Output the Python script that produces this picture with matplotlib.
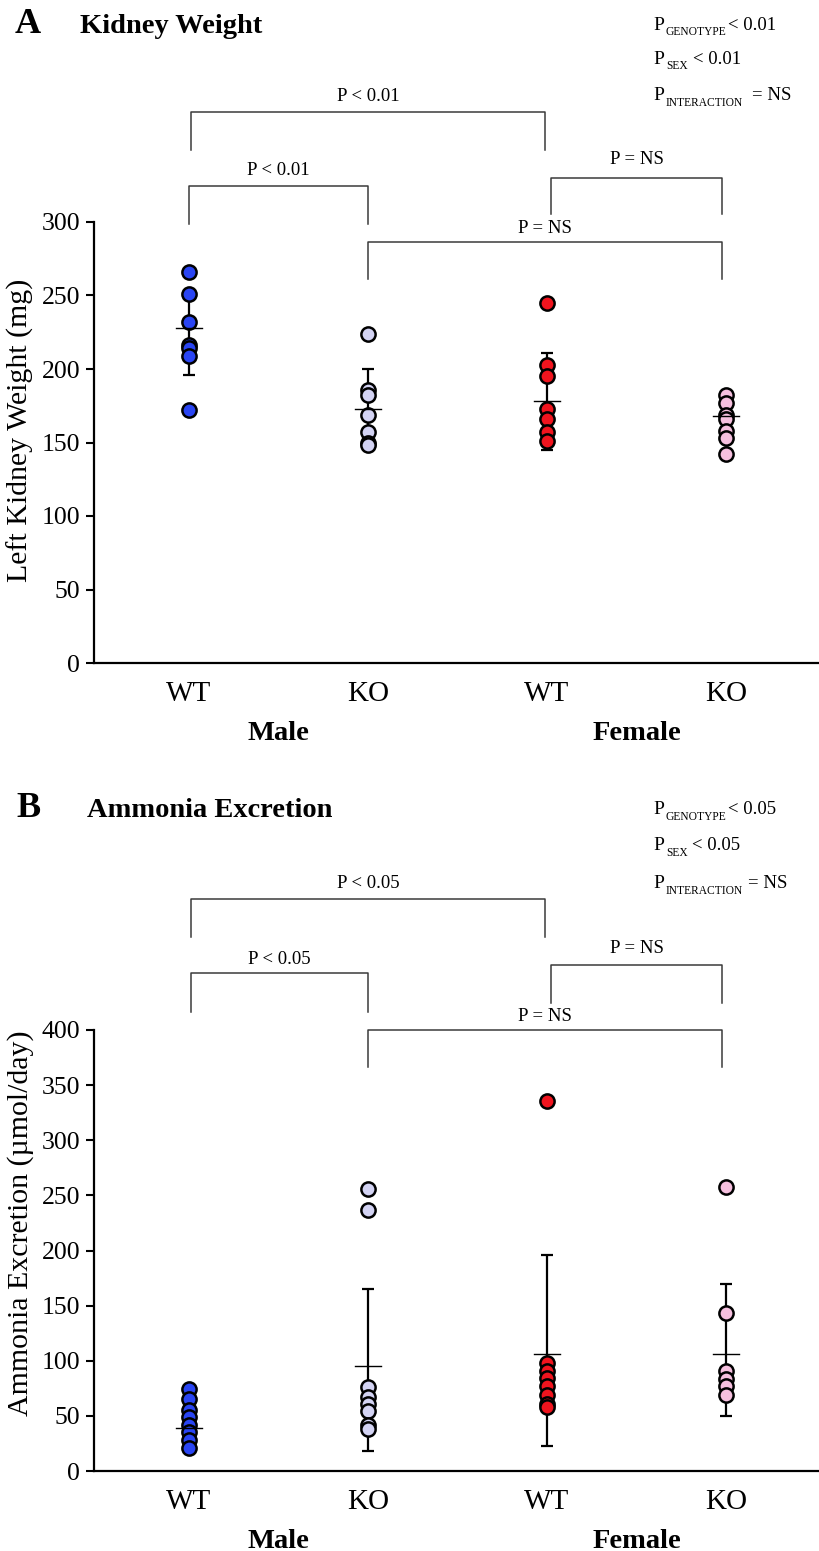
import numpy as np
import matplotlib.pyplot as plt

plt.rcParams['font.family'] = ['Liberation Serif', 'DejaVu Serif']

W, H = 819, 1551

groups = ['WT', 'KO', 'WT', 'KO']
sexes = ['Male', 'Female']
colors = ['#2a45f3', '#d3d3f3', '#f0141e', '#f6c0df']

# panel A: left kidney weight (mg)
kw_male_wt = [266, 251, 232, 216, 214, 209, 172]
kw_male_ko = [224, 186, 182, 169, 157, 150, 148]
kw_female_wt = [245, 203, 195, 173, 166, 157, 151]
kw_female_ko = [182, 177, 169, 166, 158, 153, 142]
kw_mean = [228, 173, 178, 168]
kw_low = [196, 146, 145, 156]
kw_high = [251, 200, 211, 180]

# panel B: ammonia excretion (umol/day)
am_male_wt = [74, 65, 55, 49, 42, 35, 28, 21]
am_male_ko = [256, 237, 76, 67, 61, 54, 42, 38]
am_female_wt = [336, 98, 91, 84, 77, 69, 61, 58]
am_female_ko = [258, 143, 91, 83, 77, 69]
am_mean = [39, 95, 106, 106]
am_low = [23, 18, 23, 50]
am_high = [55, 165, 196, 170]


def px(x, y):
    return x / W, 1 - y / H


def bracket(ax, x1, x2, ytop, ybot1, ybot2, label, ytext):
    ax.plot([x1, x1, x2, x2], [ybot1, ytop, ytop, ybot2], color='#3a3a3a',
            lw=1.1, clip_on=False, zorder=1)
    ax.text((x1 + x2) / 2, ytext, label, ha='center', va='center',
            fontsize=13.5, clip_on=False)


def panel(ax, data, mean, low, high, ymax, ylabel, label_y):
    x = np.arange(4)
    for i, vals in enumerate(data):
        ax.errorbar(x[i], mean[i],
                    yerr=[[mean[i] - low[i]], [high[i] - mean[i]]],
                    fmt='none', ecolor='black', elinewidth=1.6,
                    capsize=4.5, capthick=1.6, zorder=2)
        ax.scatter(np.full(len(vals), x[i]), vals, s=105, color=colors[i],
                   edgecolor='black', linewidth=1.8, zorder=3)
        ax.plot([x[i] - 0.075, x[i] + 0.075], [mean[i], mean[i]],
                color='black', lw=1.0, zorder=4)
    ax.set_xlim(-0.531, 3.52)
    ax.set_ylim(0, ymax)
    ax.set_yticks(np.arange(0, ymax + 1, 50))
    ax.set_xticks(x)
    ax.set_xticklabels(groups, fontsize=21)
    ax.tick_params(axis='x', length=0, pad=13)
    ax.tick_params(axis='y', labelsize=18.5, length=6, width=1.5, pad=4)
    for s in ['top', 'right']:
        ax.spines[s].set_visible(False)
    for s in ['left', 'bottom']:
        ax.spines[s].set_linewidth(1.6)
    ax.set_ylabel(ylabel, fontsize=21.5)
    ax.yaxis.set_label_coords(-0.083, label_y)
    ax.text(0.5, -0.16, sexes[0], transform=ax.get_xaxis_transform(),
            ha='center', va='center', fontsize=20.5, fontweight='bold')
    ax.text(2.5, -0.16, sexes[1], transform=ax.get_xaxis_transform(),
            ha='center', va='center', fontsize=20.5, fontweight='bold')


def stats(rows, ys):
    for (sub, rest, xr), y in zip(rows, ys):
        fig.text(*px(653, y), 'P', fontsize=14, va='center')
        fig.text(*px(666, y + 7), sub, fontsize=8.3, va='center')
        fig.text(*px(xr, y), rest, fontsize=13.5, va='center')


fig = plt.figure(figsize=(W / 100, H / 100), dpi=100)

axA = fig.add_axes([94 / W, 888 / H, 725 / W, 441 / H])
panel(axA, [kw_male_wt, kw_male_ko, kw_female_wt, kw_female_ko],
      kw_mean, kw_low, kw_high, 300, 'Left Kidney Weight (mg)', 0.528)
bracket(axA, 0.01, 1.99, 374.8, 349, 349, 'P < 0.01', 385.5)
bracket(axA, 0.0, 1.0, 324.5, 298.6, 298.6, 'P < 0.01', 335)
bracket(axA, 2.02, 2.98, 330, 305.4, 305.4, 'P = NS', 342.5)
bracket(axA, 1.0, 2.98, 286.4, 261.2, 261.2, 'P = NS', 295.5)

axB = fig.add_axes([94 / W, 80 / H, 725 / W, 441 / H])
panel(axB, [am_male_wt, am_male_ko, am_female_wt, am_female_ko],
      am_mean, am_low, am_high, 400, 'Ammonia Excretion (\u00b5mol/day)', 0.562)
bracket(axB, 0.01, 1.99, 518.8, 484.4, 484.4, 'P < 0.05', 532.5)
bracket(axB, 0.01, 1.0, 451.7, 416.3, 416.3, 'P < 0.05', 464)
bracket(axB, 2.02, 2.98, 459, 424.5, 424.5, 'P = NS', 473.5)
bracket(axB, 1.0, 2.98, 400, 366.4, 366.4, 'P = NS', 411.8)

fig.text(*px(15, 33), 'A', fontsize=26, fontweight='bold', va='baseline')
fig.text(*px(80, 33), 'Kidney Weight', fontsize=20.5, fontweight='bold',
         va='baseline')
fig.text(*px(16, 817), 'B', fontsize=26, fontweight='bold', va='baseline')
fig.text(*px(87, 817), 'Ammonia Excretion', fontsize=20.5, fontweight='bold',
         va='baseline')

stats([('GENOTYPE', '< 0.01', 728), ('SEX', '< 0.01', 693),
       ('INTERACTION', '= NS', 752)], [25, 59, 96])
stats([('GENOTYPE', '< 0.05', 728), ('SEX', '< 0.05', 692),
       ('INTERACTION', '= NS', 748)], [810, 846, 884])

fig.savefig('out.png', dpi=100)
